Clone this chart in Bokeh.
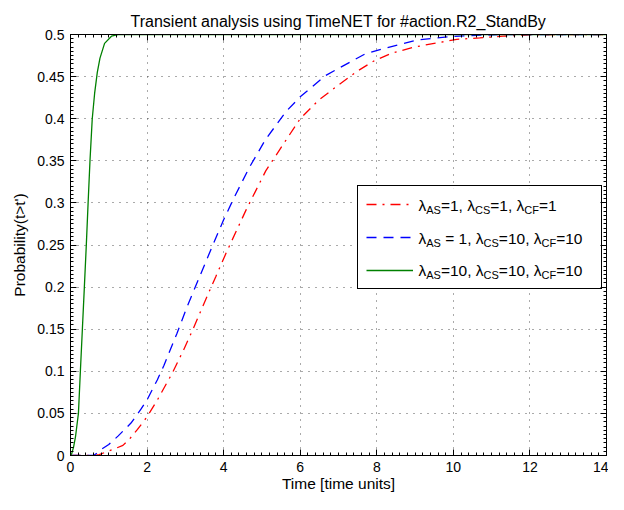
import re
from bokeh.plotting import figure
from bokeh.models import (Range1d, FixedTicker, LinearAxis, Legend, LegendItem,
                          CustomJSTickFormatter, ColumnDataSource, BoxAnnotation)
from bokeh.core.properties import value
from bokeh.embed import file_html
from bokeh.resources import INLINE

# ---------------- data ----------------
title_text = "Transient analysis using TimeNET for #action.R2_StandBy"
x_label = "Time [time units]"
y_label = "Probability(t>t')"

# lambda_AS=1, lambda_CS=1, lambda_CF=1 (red, dash-dot)
time_a = [0, 0.6, 0.75, 0.89, 1.1, 1.37, 1.55, 1.75, 2.0, 2.27, 2.66, 2.96, 3.21,
          3.51, 3.8, 4.07, 4.59, 5.1, 5.62, 6.0, 6.48, 7.0, 7.51, 7.94, 8.37, 8.97,
          9.57, 10.09, 10.69, 11.3, 12.0, 13.0, 14.0]
prob_a = [0, 0, 0.001, 0.0035, 0.007, 0.012, 0.02, 0.031, 0.046, 0.066, 0.098, 0.126,
          0.151, 0.183, 0.213, 0.241, 0.292, 0.338, 0.374, 0.40, 0.422, 0.44, 0.457,
          0.469, 0.4775, 0.485, 0.490, 0.4942, 0.496, 0.498, 0.4995, 0.5, 0.5]

# lambda_AS=1, lambda_CS=10, lambda_CF=10 (blue, dashed)
time_b = [0, 0.6, 0.7, 0.81, 1.0, 1.24, 1.58, 1.84, 2.01, 2.27, 2.44, 2.78, 3.04, 3.35,
          3.69, 4.0, 4.26, 4.67, 5.09, 5.62, 6.0, 6.65, 7.17, 7.68, 8.2, 9.06, 9.57,
          10.0, 10.6, 11.2, 12.0, 13.0, 14.0]
prob_b = [0, 0, 0.003, 0.0074, 0.013, 0.023, 0.0385, 0.055, 0.067, 0.09, 0.107, 0.145,
          0.176, 0.21, 0.247, 0.28, 0.305, 0.342, 0.375, 0.408, 0.426, 0.451, 0.464,
          0.4766, 0.4836, 0.4935, 0.496, 0.4977, 0.499, 0.4998, 0.5, 0.5, 0.5]

# lambda_AS=10, lambda_CS=10, lambda_CF=10 (green, solid)
time_c = [0, 0.03, 0.08, 0.13, 0.207, 0.258, 0.31, 0.362, 0.413, 0.46, 0.509, 0.568,
          0.63, 0.70, 0.77, 0.89, 1.07, 1.24, 14.0]
prob_c = [0, 0.002, 0.01, 0.022, 0.05, 0.10, 0.15, 0.20, 0.25, 0.30, 0.35, 0.40,
          0.43, 0.455, 0.472, 0.4895, 0.498, 0.5, 0.5]

legend_texts = ["λ_{AS}=1, λ_{CS}=1, λ_{CF}=1",
                "λ_{AS} = 1, λ_{CS}=10, λ_{CF}=10",
                "λ_{AS}=10, λ_{CS}=10, λ_{CF}=10"]
series_colors = ["#ff0000", "#0000ff", "#008000"]
series_dashes = ["10 6 2 6", "10 7", "solid"]

x_ticks = [0, 2, 4, 6, 8, 10, 12, 14]
x_tick_labels = ["0", "2", "4", "6", "8", "10", "12", "14"]
y_ticks = [0, 0.05, 0.1, 0.15, 0.2, 0.25, 0.3, 0.35, 0.4, 0.45, 0.5]
y_tick_labels = ["0", "0.05", "0.1", "0.15", "0.2", "0.25", "0.3", "0.35", "0.4",
                 "0.45", "0.5"]
x_minor = [round(i * 0.2, 4) for i in range(71)]
y_minor = [round(i * 0.005, 4) for i in range(101)]

FONT = "Liberation Sans"
W, H = 608, 494
ML, MR, MT, MB = 70, 2, 34, 38
FW, FH = W - ML - MR, H - MT - MB
XMAX, YMAX = 14.0, 0.5

p = figure(width=W, height=H, output_backend="svg", toolbar_location=None,
           x_range=Range1d(0, XMAX), y_range=Range1d(0, YMAX),
           min_border_left=ML, min_border_right=MR, min_border_top=MT,
           min_border_bottom=MB, title=title_text)
p.background_fill_color = "white"
p.border_fill_color = "white"
p.outline_line_color = "black"
p.outline_line_width = 1
p.outline_line_alpha = 1

p.title.align = "center"
p.title.text_font = FONT
p.title.text_font_size = "16px"
p.title.text_font_style = "normal"
p.title.text_color = "black"
p.title.standoff = 10

p.xaxis.ticker = FixedTicker(ticks=x_ticks, minor_ticks=x_minor)
p.yaxis.ticker = FixedTicker(ticks=y_ticks, minor_ticks=y_minor)
p.xaxis.major_label_overrides = dict(zip(x_ticks, x_tick_labels))
p.yaxis.major_label_overrides = dict(zip(y_ticks, y_tick_labels))
p.xaxis.axis_label = x_label
p.yaxis.axis_label = y_label


def style_axis(ax):
    ax.axis_line_color = "black"
    ax.major_tick_line_color = "black"
    ax.minor_tick_line_color = "black"
    ax.major_tick_in = 6
    ax.major_tick_out = 0
    ax.minor_tick_in = 3
    ax.minor_tick_out = 0
    ax.major_label_text_font = FONT
    ax.major_label_text_font_size = "14px"
    ax.major_label_text_color = "black"
    ax.major_label_standoff = 6
    ax.axis_label_text_font = FONT
    ax.axis_label_text_font_size = "15.5px"
    ax.axis_label_text_font_style = "normal"
    ax.axis_label_text_color = "black"


style_axis(p.xaxis[0])
style_axis(p.yaxis[0])
p.xaxis.axis_label_standoff = 0
p.yaxis.axis_label_standoff = 6

blank = CustomJSTickFormatter(code="return ''")
for loc, ticks, minors in [("right", y_ticks, y_minor), ("above", x_ticks, x_minor)]:
    ax = LinearAxis(ticker=FixedTicker(ticks=ticks, minor_ticks=minors), formatter=blank)
    style_axis(ax)
    ax.major_label_text_font_size = "0px"
    ax.major_label_standoff = 0
    p.add_layout(ax, loc)

for g in (p.xgrid[0], p.ygrid[0]):
    g.grid_line_color = "#444444"
    g.grid_line_dash = "1 6"
    g.grid_line_width = 1
    g.grid_line_alpha = 0.9

# ---------------- legend geometry (pixels relative to frame) ----------------
LEG_LEFT, LEG_BOTTOM = 287, 166  # px from frame bottom-left
PAD, GW, GH, SP, STAND, LW = 8, 47, 20, 13, 6, 174
leg_h = 2 * PAD + 3 * GH + 2 * SP
leg_w = 2 * PAD + GW + STAND + LW
xscale = FW / XMAX
yscale = FH / YMAX

# white legend background (covers the grid, below the curves)
p.add_layout(BoxAnnotation(left=LEG_LEFT / xscale, right=(LEG_LEFT + leg_w) / xscale,
                           bottom=LEG_BOTTOM / yscale,
                           top=(LEG_BOTTOM + leg_h) / yscale,
                           fill_color="white", fill_alpha=1, line_alpha=0,
                           level="underlay"))

renderers = []
for xs_, ys_, col, dash in zip([time_a, time_b, time_c], [prob_a, prob_b, prob_c],
                               series_colors, series_dashes):
    r = p.line(xs_, ys_, line_color=col, line_width=1.3, line_dash=dash)
    renderers.append(r)

legend = Legend(items=[LegendItem(label=" ", renderers=[r]) for r in renderers],
                location=(LEG_LEFT, LEG_BOTTOM), padding=PAD, spacing=SP,
                glyph_width=GW, glyph_height=GH, label_height=GH, label_width=LW,
                label_standoff=STAND, label_text_font_size="10px", margin=0,
                border_line_color="black", border_line_width=1, border_line_alpha=1,
                background_fill_alpha=0)
p.add_layout(legend)

# rich legend text (with subscripts)
ADV = {"λ": 0.5, "A": 0.667, "S": 0.667, "C": 0.722, "F": 0.611, "=": 0.584,
       "1": 0.556, "0": 0.556, ",": 0.278, " ": 0.278}
MAIN_SZ, SUB_SZ = 15.5, 11.0
leg_top_from_frame_top = FH - LEG_BOTTOM - leg_h
text_x_start = LEG_LEFT + PAD + GW + STAND


def tw(s, size):
    return sum(ADV.get(ch, 0.556) for ch in s) * size


px_, py_, pt_, ps_ = [], [], [], []
for i, txt in enumerate(legend_texts):
    row_center = leg_top_from_frame_top + PAD + GH / 2 + i * (GH + SP)
    base = row_center - 1.0
    xpx = text_x_start
    parts = re.split(r"_\{([^}]*)\}", txt)
    for j, part in enumerate(parts):
        if not part:
            continue
        is_sub = (j % 2 == 1)
        size = SUB_SZ if is_sub else MAIN_SZ
        b = base + (4.5 if is_sub else 0.0)
        lead = len(part) - len(part.lstrip(" "))
        xpx += tw(" " * lead, size)
        core = part.strip(" ")
        if core:
            px_.append(xpx / xscale)
            py_.append((FH - b) / yscale)
            pt_.append(core)
            ps_.append(f"{size}px")
        xpx += tw(part.lstrip(" "), size)

src = ColumnDataSource(dict(x=px_, y=py_, text=pt_, size=ps_))
p.text(x="x", y="y", text="text", source=src, text_font=value(FONT),
       text_font_size="size", text_baseline="alphabetic", text_align="left",
       text_color="black")

open("out.html", "w").write(file_html(p, INLINE))
